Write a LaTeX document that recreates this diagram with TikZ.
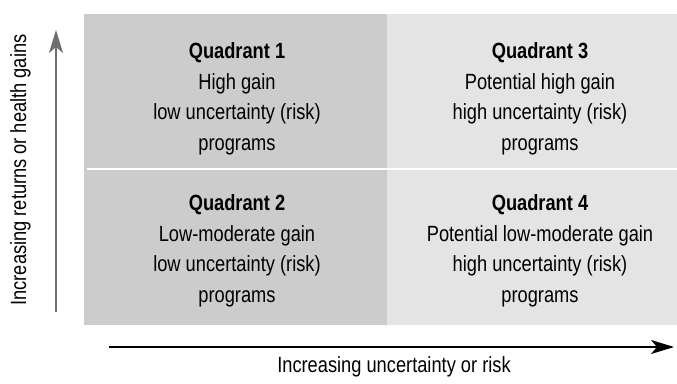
\documentclass[tikz,border=0pt]{standalone}
\usepackage{fontspec}
\setmainfont{Liberation Sans}[FakeStretch=0.83]
\usetikzlibrary{arrows.meta}
\definecolor{lowrisk}{HTML}{CCCCCC}
\definecolor{highrisk}{HTML}{E4E4E4}
\definecolor{axisgray}{HTML}{6E6E6E}

\begin{document}
\begin{tikzpicture}[x=1pt,y=-1pt,
		quadtext/.style={align=center,font=\fontsize{22}{30.5}\selectfont,inner sep=0pt},
		axislabel/.style={font=\fontsize{22}{24}\selectfont,inner sep=0pt},
		axisarrow/.style={line width=1.5pt,-{Stealth[length=23pt,width=14pt,inset=6pt]}}]
		\useasboundingbox (0,0) rectangle (677,383);
		\fill[lowrisk] (84,14) rectangle (387,325);
		\fill[highrisk] (387,14) rectangle (677,325);
		\draw[white,line width=1.2pt] (87,169) -- (677,169);

		\node[quadtext] (q1) at (237,99) {\textbf{Quadrant 1}\\High gain\\low uncertainty (risk)\\programs};
		\node[quadtext] (q2) at (237,251) {\textbf{Quadrant 2}\\Low-moderate gain\\low uncertainty (risk)\\programs};
		\node[quadtext] (q3) at (540,99) {\textbf{Quadrant 3}\\Potential high gain\\high uncertainty (risk)\\programs};
		\node[quadtext] (q4) at (540,251) {\textbf{Quadrant 4}\\Potential low-moderate gain\\high uncertainty (risk)\\programs};

		\coordinate (ybot) at (56,312);
		\coordinate (ytop) at (56,30);
		\coordinate (xleft) at (109,347);
		\coordinate (xright) at (674,347);
		\draw[axisarrow,axisgray] (ybot) -- (ytop);
		\draw[axisarrow,black] (xleft) -- (xright);

		\node[axislabel,rotate=90,anchor=base] (ylab) at (26,170) {Increasing returns or health gains};
		\node[axislabel,anchor=base] (xlab) at (394,372) {Increasing uncertainty or risk};
	\end{tikzpicture}
\end{document}
